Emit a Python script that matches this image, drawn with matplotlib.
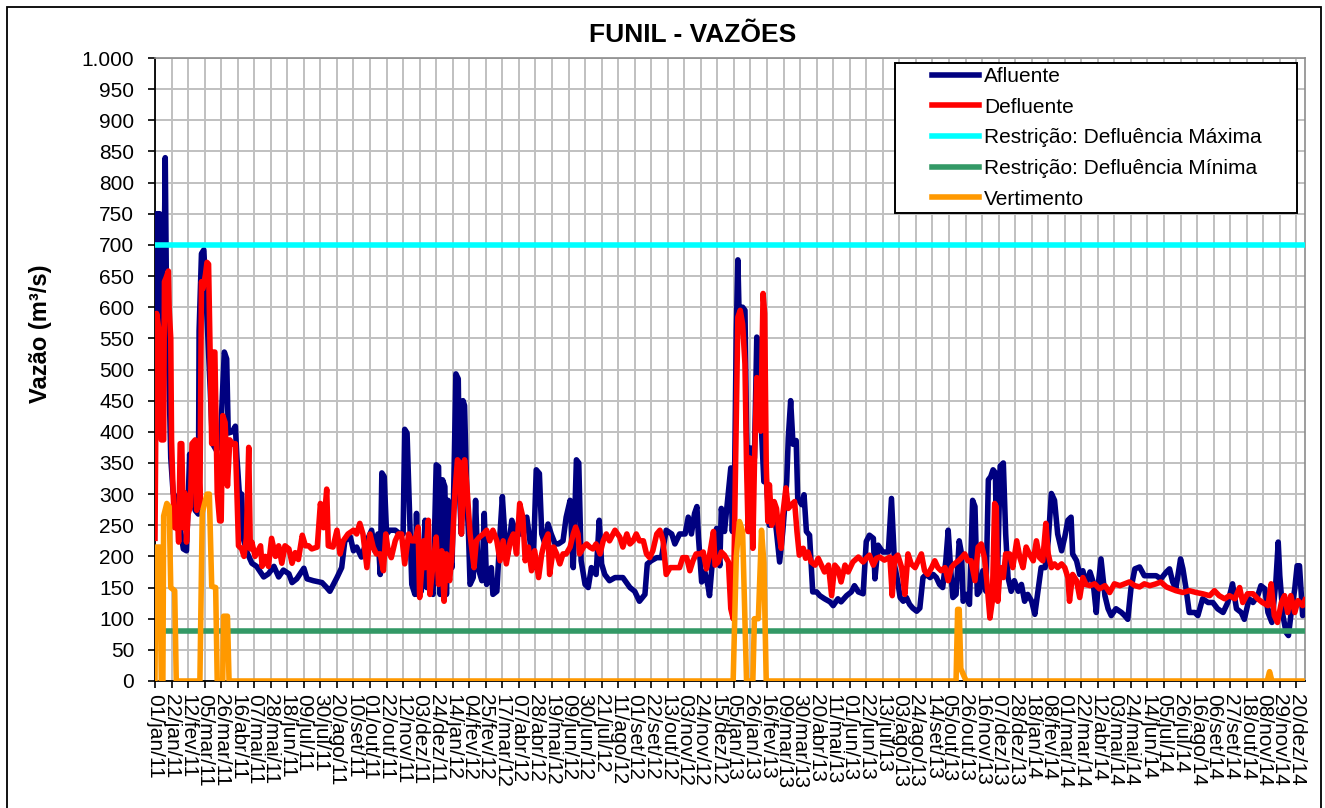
import numpy as np
import pandas as pd
import matplotlib
matplotlib.use('Agg')
import matplotlib.pyplot as plt
from matplotlib.patches import Rectangle
from matplotlib.ticker import MultipleLocator, FuncFormatter

plt.rcParams['font.family'] = ['Liberation Sans', 'DejaVu Sans']

# eixo x: dias contados a partir de 01/jan/11
inicio = pd.Timestamp('2011-01-01')
n_dias = 1460
passo_rotulo = 21
meses = ['jan', 'fev', 'mar', 'abr', 'mai', 'jun', 'jul', 'ago', 'set', 'out', 'nov', 'dez']

# (dia, vazao m3/s)
afluente = [
    (0, 400), (2, 750), (6, 750), (8, 560), (11, 600), (13, 840), (15, 560), (17, 528), (20, 358), (23, 302),
    (28, 290), (32, 245), (36, 212), (40, 209), (44, 364), (47, 300), (51, 274), (55, 268), (56, 562), (59, 686),
    (62, 692), (66, 584), (70, 471), (73, 381), (78, 370), (83, 381), (85, 443), (88, 528), (91, 517), (93, 398),
    (98, 400), (102, 409), (104, 359), (107, 302), (110, 300), (112, 229), (117, 206), (123, 189), (129, 184),
    (138, 167), (144, 172), (151, 184), (157, 167), (163, 178), (170, 172), (174, 158), (180, 164), (189, 181),
    (193, 164), (201, 161), (212, 158), (218, 150),
    (222, 144), (231, 166), (237, 182), (241, 225), (248, 231), (252, 209), (256, 215), (262, 199), (269, 225),
    (275, 242), (279, 209), (283, 236), (286, 171), (288, 334), (291, 328), (294, 236), (298, 242), (305, 242),
    (311, 236), (315, 236), (317, 404), (320, 398), (324, 236), (326, 155), (330, 139), (332, 269), (334, 139),
    (338, 144), (343, 258), (345, 150), (349, 150), (353, 139), (357, 347), (360, 344), (362, 139), (365, 323),
    (368, 312), (370, 139), (372, 290), (374, 209), (377, 182), (379, 290), (382, 493), (385, 485), (387, 290),
    (389, 236), (391, 450), (393, 442), (396, 290), (398, 236), (400, 155), (404, 166), (407, 290), (410, 182),
    (415, 161), (418, 269), (421, 155), (427, 182), (429, 139), (434, 144), (438, 236), (441, 296), (444, 236),
    (448, 204), (453, 258), (459, 236), (465, 236), (472, 263), (476, 225), (480, 182), (484, 339), (488, 333),
    (491, 236), (495, 220), (499, 252), (503, 236), (508, 220), (512, 220), (518, 225), (522, 263), (527, 290),
    (531, 182), (535, 355), (538, 350), (541, 193), (546, 155), (550, 150), (554, 182), (560, 171), (564, 258),
    (567, 188), (571, 171), (577, 161), (584, 166), (594, 166), (603, 150), (609, 144), (615, 128), (622, 139),
    (625, 188), (630, 193), (637, 198), (643, 198), (649, 242), (656, 236), (660, 220), (666, 236), (673, 236),
    (677, 263), (681, 236), (685, 269), (688, 280), (690, 230),
    (694, 159), (698, 175), (702, 153), (704, 137), (709, 213), (713, 245), (717, 185), (719, 277), (723, 240),
    (728, 304), (731, 342), (733, 240), (736, 347), (738, 563), (740, 676), (742, 563), (746, 600), (749, 595),
    (751, 401), (754, 240), (756, 374), (758, 347), (761, 358), (764, 552), (767, 546), (770, 401), (773, 320),
    (776, 325), (780, 250), (785, 283), (789, 240), (793, 191), (797, 240), (802, 320), (804, 390), (807, 450),
    (810, 380), (814, 386), (816, 293), (821, 283), (824, 299), (827, 240), (831, 234), (835, 143), (840, 143),
    (844, 137), (850, 132), (857, 127), (861, 121), (867, 132), (871, 127), (878, 137), (884, 143), (888, 153),
    (893, 143), (899, 140), (903, 224), (907, 234), (912, 229), (914, 164), (918, 218), (924, 207), (931, 207),
    (935, 293), (939, 185), (943, 159),
    (946, 134), (950, 128), (954, 134), (958, 123), (962, 117), (967, 112), (971, 117), (975, 166), (979, 171),
    (984, 166), (988, 171), (992, 166), (996, 155), (1000, 150), (1004, 193), (1007, 242), (1010, 182),
    (1013, 134), (1017, 139), (1021, 225), (1024, 204), (1026, 128), (1030, 139), (1034, 123), (1038, 290),
    (1041, 280), (1044, 139), (1047, 144), (1051, 177), (1055, 144), (1058, 323), (1061, 328), (1064, 339),
    (1067, 334), (1069, 139), (1073, 345), (1077, 350), (1080, 236), (1083, 166), (1087, 144), (1091, 161),
    (1096, 144), (1100, 155), (1104, 128), (1108, 139), (1113, 128), (1117, 107), (1121, 144), (1125, 182),
    (1130, 182), (1134, 225), (1138, 301), (1142, 290), (1146, 236), (1151, 209), (1155, 231), (1159, 258),
    (1163, 263), (1165, 204), (1170, 193), (1174, 171), (1178, 177), (1182, 155),
    (1187, 175), (1191, 159), (1195, 110), (1197, 148), (1201, 196), (1206, 137), (1210, 116), (1214, 105),
    (1220, 116), (1227, 110), (1231, 105), (1235, 99), (1239, 148), (1244, 180), (1250, 183), (1256, 169),
    (1263, 169), (1271, 169), (1277, 164), (1284, 175), (1288, 180), (1292, 159), (1296, 148), (1302, 196),
    (1305, 180), (1309, 148), (1313, 110), (1320, 110), (1324, 105), (1330, 132), (1337, 126), (1343, 126),
    (1349, 116), (1356, 110), (1362, 126), (1368, 156), (1373, 116), (1379, 110), (1383, 99), (1389, 132),
    (1394, 126), (1400, 137), (1404, 153), (1409, 148), (1413, 110), (1418, 94), (1423, 159), (1426, 223),
    (1428, 169), (1432, 105), (1436, 78), (1439, 73), (1442, 105), (1447, 148), (1450, 185), (1453, 185),
    (1457, 105), (1460, 130),
]

defluente = [
    (0, 229), (2, 590), (6, 556), (8, 387), (11, 387), (12, 641), (14, 647), (17, 658), (18, 596), (20, 550),
    (21, 387), (23, 302), (25, 246), (28, 274), (30, 223), (32, 381), (34, 381), (36, 246), (38, 302), (40, 223),
    (42, 268), (45, 280), (47, 381), (51, 387), (53, 274), (55, 370), (57, 280), (59, 641), (61, 630), (64, 652),
    (66, 672), (68, 669), (70, 528), (72, 381), (74, 528), (76, 528), (78, 381), (79, 302), (82, 257), (84, 257),
    (86, 426), (89, 415), (92, 313), (95, 387), (98, 381), (102, 381), (104, 302), (106, 217), (110, 212),
    (113, 200), (116, 229), (119, 375), (121, 212), (123, 223), (127, 200), (134, 217), (136, 184), (140, 200),
    (144, 184), (148, 229), (153, 200), (157, 217), (161, 189), (165, 217), (170, 212), (174, 189), (178, 206),
    (182, 195), (187, 234), (191, 217), (195, 217), (199, 212), (206, 215), (210, 285), (214, 246), (218, 308),
    (220, 217),
    (226, 215), (231, 242), (235, 204), (239, 225), (245, 236), (252, 242), (256, 236), (260, 253), (264, 236),
    (269, 182), (273, 236), (277, 215), (281, 204), (286, 204), (290, 177), (293, 236), (296, 209), (300, 198),
    (305, 225), (309, 236), (313, 236), (317, 188), (322, 236), (326, 225), (330, 225), (334, 247), (336, 134),
    (341, 225), (343, 182), (347, 258), (349, 139), (353, 188), (357, 231), (360, 155), (364, 209), (367, 128),
    (370, 204), (374, 161), (377, 204), (381, 307), (384, 355), (387, 350), (389, 236), (393, 355), (396, 312),
    (400, 236), (405, 182), (408, 225), (412, 231), (417, 236), (421, 242), (425, 225), (429, 242), (434, 225),
    (438, 193), (442, 225), (446, 188), (451, 225), (455, 236), (459, 204), (463, 285), (467, 263), (470, 193),
    (474, 215), (478, 177), (482, 209), (487, 166), (491, 204), (495, 225), (499, 236), (501, 171), (506, 215),
    (510, 204), (514, 188), (518, 204), (522, 204), (527, 215),
    (531, 236), (534, 247), (537, 236), (539, 204), (544, 215), (548, 220), (552, 215), (556, 212), (560, 220),
    (565, 204), (569, 225), (573, 236), (577, 225), (584, 242), (590, 231), (594, 215), (599, 236), (603, 220),
    (607, 225), (611, 236), (615, 225), (620, 225), (624, 204), (628, 198), (632, 209), (637, 236), (641, 242),
    (645, 225), (649, 171), (654, 182), (660, 182), (666, 182), (670, 198), (675, 198), (679, 177), (683, 193),
    (687, 204), (692, 204),
    (696, 207), (700, 180), (704, 202), (709, 240), (711, 186), (715, 191), (719, 207), (723, 202), (728, 191),
    (731, 116), (734, 100), (737, 347), (740, 584), (743, 595), (746, 573), (749, 509), (751, 347), (753, 240),
    (755, 358), (757, 347), (759, 213), (761, 347), (764, 487), (767, 482), (769, 401), (772, 622), (774, 590),
    (776, 347), (778, 256), (780, 315), (783, 250), (786, 288), (789, 277), (792, 240), (795, 213), (797, 267),
    (801, 310), (804, 277), (808, 283), (812, 288), (815, 240), (818, 202), (823, 213), (826, 197), (829, 207),
    (833, 191), (838, 186), (842, 197), (846, 186), (850, 175), (855, 186), (859, 137), (863, 186), (867, 180),
    (871, 159), (876, 186), (880, 175), (886, 191), (893, 199), (899, 191), (903, 197), (907, 202), (912, 186),
    (916, 197), (920, 199), (926, 194), (933, 199), (936, 137), (939, 197), (943, 202),
    (948, 182), (952, 139), (956, 204), (960, 188), (965, 182), (969, 193), (973, 204), (977, 177), (981, 171),
    (986, 182), (990, 193), (994, 182), (998, 177), (1003, 182), (1007, 161), (1011, 182), (1015, 188),
    (1020, 193), (1024, 198), (1028, 204), (1032, 193), (1036, 193), (1041, 161), (1045, 215), (1049, 220),
    (1053, 198), (1056, 161), (1060, 101), (1063, 128), (1066, 285), (1068, 280), (1070, 128), (1073, 182),
    (1077, 166), (1080, 204), (1085, 204), (1089, 182), (1094, 225), (1098, 198), (1102, 182), (1106, 215),
    (1110, 204), (1115, 193), (1119, 225), (1123, 198), (1127, 193), (1131, 253), (1134, 204), (1138, 182),
    (1142, 188), (1146, 182), (1151, 188), (1155, 182), (1159, 166), (1161, 128), (1165, 171), (1170, 161),
    (1174, 134), (1178, 166), (1182, 155),
    (1187, 153), (1193, 156), (1199, 148), (1206, 153), (1212, 142), (1218, 156), (1225, 153), (1231, 156),
    (1237, 159), (1244, 153), (1250, 151), (1256, 156), (1263, 153), (1271, 156), (1277, 159), (1284, 151),
    (1290, 148), (1296, 145), (1305, 142), (1313, 145), (1322, 142), (1330, 140), (1339, 137), (1345, 145),
    (1351, 137), (1358, 132), (1364, 137), (1371, 132), (1377, 150), (1381, 126), (1387, 140), (1394, 140),
    (1400, 132), (1406, 126), (1413, 121), (1417, 156), (1421, 105), (1425, 94), (1430, 126), (1434, 137),
    (1438, 110), (1442, 137), (1447, 110), (1451, 129), (1457, 121), (1460, 130),
]

vertimento = [
    (0, 0), (1, 215), (6, 215), (8, 0), (10, 0), (11, 265), (15, 285), (18, 280), (20, 150), (25, 145),
    (27, 0), (57, 0), (60, 270), (66, 300), (69, 300), (72, 152), (77, 150), (79, 0), (86, 0), (87, 104),
    (92, 104), (94, 0), (734, 0), (738, 200), (742, 256), (746, 240), (751, 0), (759, 0), (761, 100),
    (766, 100), (770, 242), (773, 190), (776, 0), (1017, 0), (1019, 115), (1021, 115), (1023, 20),
    (1027, 8), (1030, 0), (1412, 0), (1415, 15), (1418, 0), (1460, 0),
]

restricao_max = 700
restricao_min = 80

cores = {'afl': '#000080', 'def': '#ff0000', 'max': '#00ffff', 'min': '#339966', 'vert': '#ff9900'}
lw = 4.0

fig = plt.figure(figsize=(13.25, 8.08), dpi=100)
ax = fig.add_axes([155 / 1325, 1 - 681 / 808, 1150 / 1325, 623 / 808])

xa, ya = zip(*afluente)
xd, yd = zip(*defluente)
xv, yv = zip(*vertimento)

l1, = ax.plot(xa, ya, color=cores['afl'], lw=lw, solid_joinstyle='round', zorder=3, label='Afluente')
l2, = ax.plot(xd, yd, color=cores['def'], lw=lw, solid_joinstyle='round', zorder=4, label='Defluente')
l3 = ax.axhline(restricao_max, color=cores['max'], lw=lw, zorder=5, label='Restrição: Defluência Máxima')
l4 = ax.axhline(restricao_min, color=cores['min'], lw=lw, zorder=5, label='Restrição: Defluência Mínima')
l5, = ax.plot(xv, yv, color=cores['vert'], lw=lw, solid_joinstyle='round', zorder=6, label='Vertimento')

ax.set_xlim(0, n_dias)
ax.set_ylim(0, 1000)

ticks = np.arange(0, n_dias + 1, passo_rotulo)
rotulos = []
for d in ticks:
    t = inicio + pd.Timedelta(days=int(d))
    rotulos.append('%02d/%s/%s' % (t.day, meses[t.month - 1], t.strftime('%y')))
ax.set_xticks(ticks)
ax.set_xticklabels(rotulos, rotation=270, fontsize=15, ha='center', va='top')
ax.yaxis.set_major_locator(MultipleLocator(50))
ax.yaxis.set_major_formatter(FuncFormatter(lambda v, p: f'{int(v):,}'.replace(',', '.')))
ax.tick_params(axis='y', labelsize=15, length=5, width=1.2, pad=10, direction='out')
ax.tick_params(axis='x', length=5, width=1.2, pad=4, direction='out')

ax.grid(True, color='#c0c0c0', lw=1.4, zorder=0)
ax.set_axisbelow(True)
for s in ['top', 'right']:
    ax.spines[s].set_color('#8c8c8c')
    ax.spines[s].set_linewidth(1.2)
for s in ['left', 'bottom']:
    ax.spines[s].set_color('black')
    ax.spines[s].set_linewidth(1.3)

# caixa da legenda
ax.add_patch(Rectangle(((895 - 155) / 1150, (681 - 213) / 623), 402 / 1150, 150 / 623,
                       transform=ax.transAxes, facecolor='white', edgecolor='black', lw=1.4, zorder=10))
leg = ax.legend(handles=[l1, l2, l3, l4, l5], loc='upper left',
                bbox_to_anchor=((932 - 155) / 1150, (681 - 67) / 623), frameon=False,
                fontsize=15, handlelength=2.26, handletextpad=0.24, labelspacing=0.56,
                borderpad=0, borderaxespad=0)
leg.set_zorder(11)

fig.text(693 / 1325, 1 - 35 / 808, 'FUNIL - VAZÕES', fontsize=19, fontweight='bold', ha='center', va='center')
fig.text(40 / 1325, 1 - 334 / 808, 'Vazão (m³/s)', fontsize=17, fontweight='bold', rotation=90,
         ha='center', va='center')

fig.add_artist(Rectangle((7 / 1325, -0.01), (1321 - 7) / 1325, 1.01 - 7 / 808, transform=fig.transFigure,
                         fill=False, edgecolor='black', lw=1.3))

fig.savefig('out.png', dpi=100)
